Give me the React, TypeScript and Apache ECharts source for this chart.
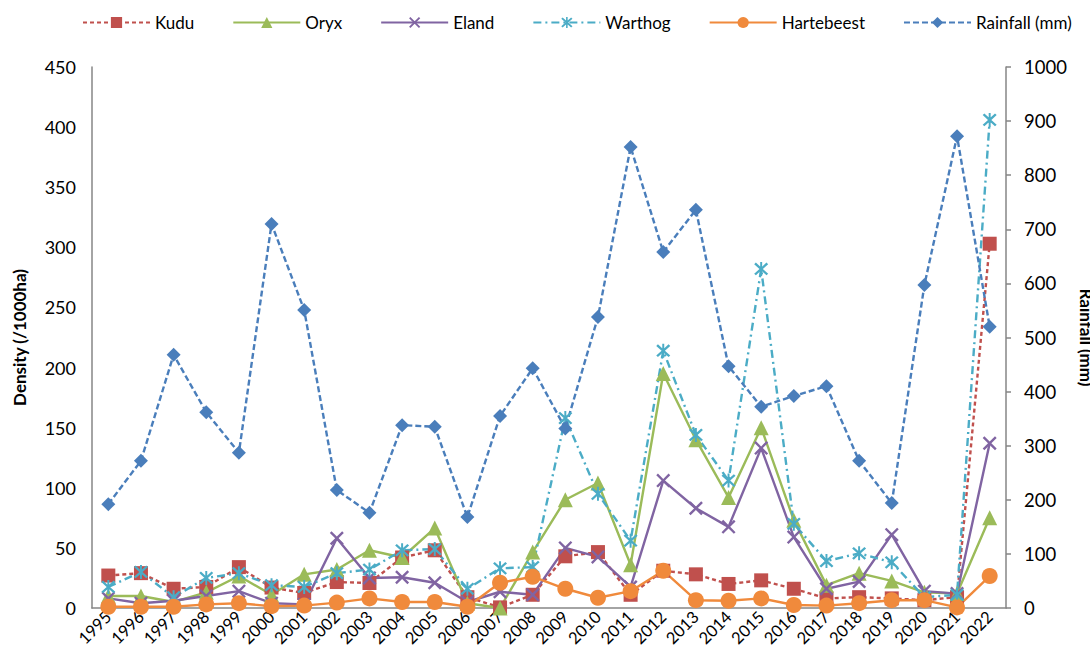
import React, { useEffect, useRef } from "react";
import * as echarts from "echarts";

const years = ["1995","1996","1997","1998","1999","2000","2001","2002","2003","2004","2005","2006","2007","2008","2009","2010","2011","2012","2013","2014","2015","2016","2017","2018","2019","2020","2021","2022"];
const kudu = [27,29,16,17.5,34,17,12.5,21.6,20.8,42,48,9,0.5,11,43,46.5,11,31,28,20,23,16,8,9,8,6.5,9,303];
const oryx = [10,10,5,13,26.6,11,28,32,48,42,66.5,4,0,46.5,90,104,36,195,140,92,150,73,19,29,22.5,13,12,75];
const eland = [8,4,6,10,14,4,3,58,25,25.6,21,5,13.5,11,50,42.5,17.5,106,83,67.5,133,59,16,22,61,14,12,137];
const warthog = [17.5,30,9,25,29,19,17.5,29,32,48,49,16,33,34,158,95,56,214,144,106,282,70,39,45.5,38,9,11,406];
const hartebeest = [1,1,1,3,4,1.5,2,4.5,8,5,5,1,21,26,16,8.5,14,31,6.5,6,8,2.5,2,4,6.5,6.5,0.5,26.6];
const rainfall = [192,272,468,362,287,710,551,218,176,338,335,168,355,443,332,538,852,658,736,447,372,392,410,272,194,597,872,520];

const FONT = "Lato, 'Open Sans', sans-serif";
const X_PATH = "path://M0,1.2L1.2,0L5,3.8L8.8,0L10,1.2L6.2,5L10,8.8L8.8,10L5,6.2L1.2,10L0,8.8L3.8,5Z";
const STAR_PATH = "path://M0,1.2L1.2,0L5,3.8L8.8,0L10,1.2L6.2,5L10,8.8L8.8,10L5,6.2L1.2,10L0,8.8L3.8,5Z M4.3,-0.5L5.7,-0.5L5.7,10.5L4.3,10.5Z";

export default function App() {
  const ref = useRef<HTMLDivElement>(null);
  useEffect(() => {
    if (!ref.current) return;
    const chart = echarts.init(ref.current, undefined, { renderer: "svg" });
    const mk = (name: string, data: number[], color: string, symbol: string, size: number, type: any, yAxisIndex = 0) => ({
      name,
      type: "line",
      data,
      yAxisIndex,
      symbol,
      symbolSize: size,
      showAllSymbol: true,
      lineStyle: { color, width: 2.4, type },
      itemStyle: { color, borderWidth: 0 },
    });
    chart.setOption({
      animation: false,
      textStyle: { fontFamily: FONT },
      legend: {
        top: 9,
        left: 77,
        width: 1013,
        itemWidth: 67,
        itemHeight: 14,
        itemGap: 38,
        textStyle: { fontSize: 17, color: "#000", fontFamily: FONT },
        data: ["Kudu", "Oryx", "Eland", "Warthog", "Hartebeest", "Rainfall (mm)"],
      },
      grid: { left: 92, right: 84, top: 67, bottom: 54, containLabel: false, outerBoundsMode: "none" },
      xAxis: {
        type: "category",
        data: years,
        boundaryGap: true,
        axisLine: { lineStyle: { color: "#868686", width: 1.5 } },
        axisTick: { show: false },
        axisLabel: { rotate: 45, interval: 0, fontSize: 16.5, color: "#000", margin: 6, fontFamily: FONT },
      },
      yAxis: [
        {
          type: "value",
          min: 0,
          max: 450,
          interval: 50,
          name: "Density (/1000ha)",
          nameLocation: "middle",
          nameGap: 64,
          nameTextStyle: { fontSize: 17, fontWeight: "bold", color: "#000", fontFamily: FONT },
          axisLine: { show: true, lineStyle: { color: "#868686", width: 1.5 } },
          axisTick: { show: false },
          splitLine: { show: false },
          axisLabel: { fontSize: 18, color: "#000", margin: 16, fontFamily: FONT },
        },
        {
          type: "value",
          min: 0,
          max: 1000,
          interval: 100,
          position: "right",
          name: "Rainfall (mm)",
          nameLocation: "middle",
          nameRotate: -90,
          nameGap: 50,
          nameTextStyle: { fontSize: 17, fontWeight: "bold", color: "#000", fontFamily: FONT },
          axisLine: { show: true, lineStyle: { color: "#868686", width: 1.5 } },
          axisTick: { show: true, length: 5, lineStyle: { color: "#868686", width: 1.5 } },
          splitLine: { show: false },
          axisLabel: { fontSize: 18.5, color: "#000", margin: 18, fontFamily: FONT, formatter: (v: number) => String(v) },
        },
      ],
      series: [
        mk("Kudu", kudu, "#C0504D", "rect", 14, [4, 3]),
        mk("Oryx", oryx, "#9BBB59", "triangle", 15, "solid"),
        mk("Eland", eland, "#8064A2", X_PATH, 14, "solid"),
        mk("Warthog", warthog, "#4BACC6", STAR_PATH, 14, [8, 4, 2, 4]),
        mk("Hartebeest", hartebeest, "#F08A3C", "circle", 16, "solid"),
        mk("Rainfall (mm)", rainfall, "#4A7EBB", "diamond", 14, [6, 3], 1),
      ],
    });
    return () => chart.dispose();
  }, []);
  return <div ref={ref} style={{ position: "absolute", left: 0, top: 0, width: 1090, height: 662 }} />;
}
